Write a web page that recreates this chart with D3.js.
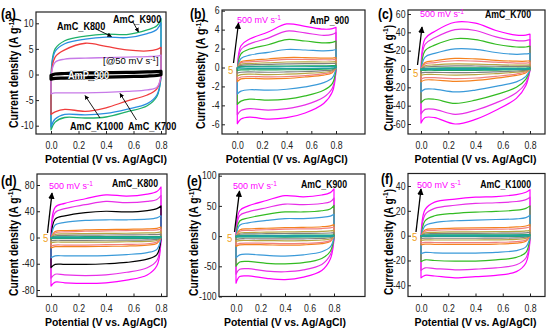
<!DOCTYPE html>
<html>
<head>
<meta charset="utf-8">
<script src="https://cdn.jsdelivr.net/npm/d3@7"></script>
<style>
  body { margin: 0; background: #fff; }
  svg { display: block; font-family: "Liberation Sans", Arial, sans-serif; }
</style>
</head>
<body>
<svg width="550" height="330"></svg>
<script>
// potentials (V) at which each branch is read
const potentials = [0, 0.03, 0.1, 0.25, 0.4, 0.55, 0.7, 0.77, 0.8];
const xTicks = [0, 0.2, 0.4, 0.6, 0.8];
const scanRates = [500, 400, 300, 200, 100, 80, 50, 30, 10, 5];
const rateColors = ["#ff00ff", "#e82ee8", "#33bb22", "#3a9ad9", "#f5821f",
  "#f08080", "#b5a642", "#808080", "#22aa55", "#1fa0a0"];
const rateColorsD = ["#ff00ff", "#e82ee8", "#000000", "#3a9ad9", "#f5821f",
  "#f08080", "#b5a642", "#808080", "#22aa55", "#1fa0a0"];

// (a) 50 mV/s comparison
const aNames = ["AmC_K900", "AmC_K800", "AmC_K700", "AmC_K1000", "AmP_900"];
const aColors = ["#1fb06a", "#2a8ee0", "#f03c3c", "#c77ae8", "#000000"];
const aUp = [
  [-1, 5, 6.6, 7.5, 7.9, 7.8, 8.7, 9.5, 10.9],
  [-1, 4.5, 6.0, 6.9, 7.3, 7.2, 8.0, 8.8, 10.1],
  [-0.8, 3.4, 4.8, 6.1, 5.5, 4.8, 4.6, 4.9, 5.3],
  [-0.5, 2.4, 3.0, 3.2, 3.3, 3.4, 3.5, 3.6, 3.8],
  [-0.2, 0.1, 0.2, 0.3, 0.35, 0.4, 0.5, 0.55, 0.6]
];
const aLo = [
  [-10.8, -9.3, -8.4, -8.5, -8.3, -7.3, -6.1, -4.3, -0.5],
  [-10.2, -8.7, -7.8, -7.9, -7.6, -6.8, -5.7, -4.0, -0.5],
  [-7.8, -7.3, -6.8, -7.2, -6.5, -5.2, -4.0, -2.8, -0.4],
  [-3.8, -3.6, -3.6, -3.6, -3.5, -3.3, -3.0, -2.5, -0.3],
  [-0.9, -0.75, -0.7, -0.6, -0.5, -0.4, -0.3, -0.2, -0.05]
];

// (b) AmP_900
const bUp = [
  [-0.5, 2.3, 3.0, 3.75, 4.6, 4.35, 4.05, 4.1, 4.25],
  [-0.4, 1.9, 2.5, 3.1, 3.85, 3.65, 3.4, 3.5, 3.7],
  [-0.3, 1.45, 1.95, 2.4, 2.95, 2.8, 2.6, 2.65, 2.8],
  [-0.2, 0.95, 1.3, 1.6, 1.9, 1.85, 1.75, 1.8, 1.9],
  [-0.1, 0.6, 0.75, 0.9, 1.05, 1.05, 1.0, 1.0, 1.05],
  [-0.1, 0.5, 0.6, 0.72, 0.85, 0.85, 0.82, 0.82, 0.85],
  [-0.05, 0.35, 0.42, 0.5, 0.58, 0.6, 0.58, 0.6, 0.62],
  [0, 0.22, 0.28, 0.32, 0.38, 0.4, 0.4, 0.42, 0.45],
  [0, 0.1, 0.12, 0.14, 0.16, 0.17, 0.18, 0.19, 0.22],
  [0, 0.05, 0.06, 0.07, 0.08, 0.08, 0.09, 0.1, 0.12]
];
const bLo = [
  [-5.95, -5.45, -5.25, -5.45, -5.3, -4.8, -3.8, -2.6, -0.3],
  [-5.0, -4.55, -4.35, -4.5, -4.35, -3.95, -3.15, -2.2, -0.3],
  [-3.9, -3.55, -3.35, -3.45, -3.35, -3.0, -2.4, -1.7, -0.2],
  [-2.8, -2.5, -2.35, -2.4, -2.3, -2.05, -1.6, -1.1, -0.1],
  [-1.5, -1.2, -1.15, -1.2, -1.15, -1.0, -0.8, -0.55, 0],
  [-1.2, -1.0, -0.95, -1.0, -0.95, -0.85, -0.65, -0.45, 0],
  [-0.9, -0.75, -0.7, -0.75, -0.7, -0.62, -0.5, -0.35, 0],
  [-0.6, -0.5, -0.47, -0.5, -0.47, -0.42, -0.33, -0.25, 0],
  [-0.3, -0.26, -0.24, -0.25, -0.24, -0.22, -0.18, -0.13, 0],
  [-0.15, -0.13, -0.12, -0.12, -0.12, -0.11, -0.1, -0.07, 0]
];

// (c) AmC_K700
const cUp = [
  [-5, 33, 41, 51, 50, 42, 37, 37, 38],
  [-4, 27, 34, 43, 42, 35, 31, 31, 32],
  [-3, 20, 26, 33, 32, 27, 24, 24, 25],
  [-2, 13, 17, 22, 21.5, 18, 16, 16.5, 17],
  [-1, 7, 9, 11.5, 11, 9.5, 8.5, 8.5, 9],
  [-1, 5.5, 7, 9, 8.5, 7.5, 6.5, 6.5, 7],
  [-0.5, 3.5, 4.5, 5.5, 5.3, 4.7, 4.2, 4.3, 4.5],
  [-0.3, 2.2, 2.8, 3.4, 3.3, 3, 2.7, 2.8, 3],
  [0, 0.8, 1, 1.2, 1.2, 1.1, 1, 1.1, 1.2],
  [0, 0.4, 0.5, 0.6, 0.6, 0.55, 0.5, 0.55, 0.6]
];
const cLo = [
  [-59, -53, -53, -60, -55, -45, -32, -18, -1],
  [-49, -44, -44, -49.5, -45, -37, -26, -15, -1],
  [-37, -33, -33, -37.5, -34, -28, -20, -11, -1],
  [-25, -22, -22, -25, -23, -19, -14, -8, -0.5],
  [-14, -12, -12, -13.5, -12.5, -10, -7, -4, 0],
  [-11, -9.5, -9.5, -10.5, -9.8, -8, -5.5, -3, 0],
  [-7, -6, -6, -6.6, -6.2, -5, -3.5, -2, 0],
  [-4.3, -3.7, -3.7, -4, -3.8, -3.1, -2.2, -1.2, 0],
  [-1.6, -1.4, -1.4, -1.5, -1.4, -1.2, -0.8, -0.5, 0],
  [-0.8, -0.7, -0.7, -0.75, -0.7, -0.6, -0.4, -0.25, 0]
];

// (d) AmC_K800
const dUp = [
  [-5, 46, 52, 59, 65, 63, 66, 70, 77],
  [-4, 38, 44, 50, 55, 53, 55, 58, 64],
  [-3, 28, 33, 38, 40, 39, 41, 44, 48],
  [-2, 19, 23, 26, 27, 27, 28, 30, 33],
  [-1, 9, 10.5, 11.5, 12, 12.5, 13, 14, 16],
  [-1, 7, 8.5, 9.5, 10, 10.5, 11, 11.5, 13],
  [-0.5, 4.5, 5.5, 6, 6.3, 6.5, 7, 7.3, 8.5],
  [-0.3, 2.7, 3.2, 3.6, 3.8, 4, 4.2, 4.5, 5],
  [0, 0.9, 1.1, 1.2, 1.3, 1.3, 1.4, 1.5, 1.7],
  [0, 0.45, 0.55, 0.6, 0.65, 0.65, 0.7, 0.75, 0.85]
];
const dLo = [
  [-74, -68, -69, -70, -69, -65, -57, -43, -4],
  [-62, -56, -57, -58, -57, -53, -46, -35, -3],
  [-46, -41, -41, -41, -40, -38, -33, -26, -2],
  [-31, -28, -28, -28, -27.5, -26, -23, -18, -1],
  [-16, -14, -14, -14, -13.5, -13, -11.5, -9, 0],
  [-13, -11.5, -11.5, -11.5, -11, -10.5, -9.5, -7, 0],
  [-8, -7, -7, -7, -7, -6.5, -6, -4.5, 0],
  [-5, -4.3, -4.3, -4.3, -4.2, -4, -3.6, -2.8, 0],
  [-1.7, -1.5, -1.5, -1.5, -1.4, -1.4, -1.2, -0.9, 0],
  [-0.85, -0.75, -0.75, -0.75, -0.7, -0.7, -0.6, -0.45, 0]
];

// (e) AmC_K900
const eUp = [
  [-5, 42, 50, 59, 67, 65, 68, 72, 78],
  [-4, 34, 40, 47, 53, 52, 54, 57, 63],
  [-3, 25, 30, 36, 40, 40, 42, 45, 51],
  [-2, 18, 22, 26, 29, 29, 31, 33, 36],
  [-1, 10, 12, 13, 14, 14.5, 15.5, 17, 19],
  [-1, 8, 9.5, 10.5, 11.5, 12, 12.5, 13.5, 15],
  [-0.5, 5, 6, 6.5, 7, 7.3, 7.8, 8.5, 9.5],
  [-0.3, 3, 3.6, 4, 4.3, 4.5, 4.7, 5.1, 5.7],
  [0, 1, 1.2, 1.3, 1.4, 1.5, 1.6, 1.7, 1.9],
  [0, 0.5, 0.6, 0.65, 0.7, 0.75, 0.8, 0.85, 0.95]
];
const eLo = [
  [-78, -67, -66, -70, -72, -68, -57, -38, -5],
  [-63, -55, -54, -58, -59, -56, -47, -31, -4],
  [-50, -43, -42, -45, -46, -44, -37, -25, -3],
  [-36, -31, -30, -32, -33, -31, -26, -18, -2],
  [-17, -14.5, -14, -14.5, -15, -14.5, -12.5, -9, 0],
  [-14, -12, -11.5, -12, -12.5, -12, -10.5, -7.5, 0],
  [-9, -7.5, -7.3, -7.5, -7.8, -7.5, -6.5, -4.7, 0],
  [-5.5, -4.5, -4.4, -4.5, -4.7, -4.5, -3.9, -2.8, 0],
  [-1.8, -1.5, -1.45, -1.5, -1.55, -1.5, -1.3, -0.95, 0],
  [-0.9, -0.75, -0.72, -0.75, -0.78, -0.75, -0.65, -0.47, 0]
];

// (f) AmC_K1000
const fUp = [
  [-3, 21, 27, 29.5, 31, 31.5, 33, 35, 37],
  [-2.5, 17, 22, 24.5, 26, 26.5, 27.5, 29, 31],
  [-2, 12, 16, 18, 19, 19.5, 20.5, 22, 24],
  [-1.5, 8, 10.5, 12, 12.5, 13, 13.5, 14.5, 16.5],
  [-0.8, 4.5, 5.5, 6, 6.3, 6.5, 7, 7.8, 9],
  [-0.6, 3.5, 4.3, 4.8, 5, 5.2, 5.5, 6.2, 7],
  [-0.4, 2.2, 2.7, 3, 3.1, 3.2, 3.4, 3.8, 4.3],
  [-0.2, 1.3, 1.6, 1.8, 1.9, 1.95, 2.05, 2.3, 2.6],
  [0, 0.45, 0.55, 0.6, 0.62, 0.65, 0.7, 0.75, 0.85],
  [0, 0.22, 0.27, 0.3, 0.31, 0.32, 0.35, 0.38, 0.43]
];
const fLo = [
  [-34, -32, -32.5, -34, -33, -32, -29, -22, -3],
  [-28, -26, -26.5, -27.5, -27, -26, -23.5, -18, -2.5],
  [-21, -19.5, -20, -20.5, -20.5, -19.5, -17.5, -13.5, -2],
  [-14.5, -13.5, -13.8, -14, -14, -13.5, -12, -9, -1.5],
  [-7.5, -6.8, -7, -7, -7, -6.8, -6, -4.5, 0],
  [-6, -5.4, -5.5, -5.6, -5.6, -5.4, -4.8, -3.6, 0],
  [-3.8, -3.4, -3.5, -3.5, -3.5, -3.4, -3, -2.2, 0],
  [-2.3, -2, -2.1, -2.1, -2.1, -2, -1.8, -1.3, 0],
  [-0.75, -0.68, -0.7, -0.7, -0.7, -0.68, -0.6, -0.45, 0],
  [-0.38, -0.34, -0.35, -0.35, -0.35, -0.34, -0.3, -0.22, 0]
];

const svg = d3.select("svg");
const squeeze = 0.87; // glyphs in the figure are narrower than Arial

svg.append("defs").append("marker")
  .attr("id", "head")
  .attr("viewBox", "0 0 10 10")
  .attr("refX", 9).attr("refY", 5)
  .attr("markerWidth", 5).attr("markerHeight", 5)
  .attr("orient", "auto")
  .append("path").attr("d", "M0,0L10,5L0,10z").attr("fill", "#000");

// layout of each panel: frame [left,right,top,bottom], x/y anchors in px
const panels = [
  { key: "a", label: "(a)", lab: [1, 19], frame: [36, 166, 12, 134], xr: [51, 161],
    yDom: [10, -10], yr: [23.3, 125.7], yTicks: [-10, -5, 0, 5, 10],
    titleX: 18, titleMid: 73, titleLen: 110, xTitleY: 163,
    up: aUp, lo: aLo, colors: aColors, widths: [1.3, 1.3, 1.3, 1.3, 3.2] },
  { key: "b", label: "(b)", lab: [190, 19], frame: [222, 365, 10, 134], xr: [237.3, 336],
    yDom: [6, -6], yr: [10.7, 124.3], yTicks: [-6, -4, -2, 0, 2, 4, 6],
    titleX: 205, titleMid: 74, titleLen: 110, xTitleY: 163,
    up: bUp, lo: bLo, colors: rateColors, name: "AmP_900", nameXY: [349, 24],
    rateXY: [237, 23], fiveXY: [228, 74], arrow: [233.5, 63, 238.5, 23] },
  { key: "c", label: "(c)", lab: [378, 19], frame: [408, 545, 10, 134], xr: [421, 530],
    yDom: [60, -60], yr: [14, 124], yTicks: [-60, -40, -20, 0, 20, 40, 60],
    titleX: 392.5, titleMid: 78, titleLen: 106, xTitleY: 163,
    up: cUp, lo: cLo, colors: rateColors, name: "AmC_K700", nameXY: [531, 18],
    rateXY: [420, 17], fiveXY: [413, 77], arrow: [417.5, 65, 422, 27] },
  { key: "d", label: "(d)", lab: [1, 186], frame: [37, 167, 174, 296.5], xr: [51, 161],
    yDom: [80, -80], yr: [185, 290], yTicks: [-80, -40, 0, 40, 80],
    titleX: 17.5, titleMid: 242, titleLen: 108, xTitleY: 325.5,
    up: dUp, lo: dLo, colors: rateColorsD, name: "AmC_K800", nameXY: [158, 187],
    rateXY: [49, 189], fiveXY: [43, 242], arrow: [47.5, 233, 52, 193] },
  { key: "e", label: "(e)", lab: [187, 186], frame: [219, 365, 174, 296.5], xr: [236, 334],
    yDom: [100, -100], yr: [175.7, 296.5], yTicks: [-100, -50, 0, 50, 100],
    titleX: 198, titleMid: 242, titleLen: 108, xTitleY: 325.5,
    up: eUp, lo: eLo, colors: rateColors, name: "AmC_K900", nameXY: [347, 188],
    rateXY: [233, 189], fiveXY: [227, 242], arrow: [234.5, 232, 239.5, 191] },
  { key: "f", label: "(f)", lab: [381, 184], frame: [408, 545, 173.5, 296.5], xr: [421, 530],
    yDom: [40, -40], yr: [186, 285.3], yTicks: [-40, -20, 0, 20, 40],
    titleX: 392.5, titleMid: 242, titleLen: 106, xTitleY: 325.5,
    up: fUp, lo: fLo, colors: rateColors, name: "AmC_K1000", nameXY: [531, 188],
    rateXY: [417, 188], fiveXY: [412, 241], arrow: [416, 232, 421, 189] }
];

const branch = d3.line().curve(d3.curveCatmullRom.alpha(0.5));

const drawPanel = (p) => {
  const [L, R, T, B] = p.frame;
  const x = d3.scaleLinear().domain([0, 0.8]).range(p.xr);
  const y = d3.scaleLinear().domain(p.yDom).range(p.yr);
  const g = svg.append("g");

  svg.select("defs").append("clipPath").attr("id", "clip-" + p.key)
    .append("rect").attr("x", L).attr("y", T).attr("width", R - L).attr("height", B - T);

  const curves = g.append("g").attr("clip-path", `url(#clip-${p.key})`);
  p.up.forEach((u, i) => {
    const upper = potentials.map((e, j) => [x(e), y(u[j])]);
    const lower = potentials.map((e, j) => [x(e), y(p.lo[i][j])]).reverse();
    const d = branch(upper) + branch(lower).replace(/^M/, "L") + "Z";
    curves.append("path")
      .attr("d", d)
      .attr("fill", "none")
      .attr("stroke", p.colors[i])
      .attr("stroke-width", p.widths ? p.widths[i] : 1.2)
      .attr("stroke-linejoin", "round");
  });

  // ticks point into the frame
  const xAxis = d3.axisBottom(x).tickValues(xTicks)
    .tickFormat(d3.format(".1f")).tickSize(-3).tickSizeOuter(0).tickPadding(8);
  const yAxis = d3.axisLeft(y).tickValues(p.yTicks)
    .tickFormat((d) => String(d)).tickSize(-3).tickSizeOuter(0).tickPadding(2.5);

  const gx = g.append("g").attr("transform", `translate(0,${B})`).call(xAxis);
  const gy = g.append("g").attr("transform", `translate(${L},0)`).call(yAxis);
  [gx, gy].forEach((ax) => {
    ax.select(".domain").remove();
    ax.selectAll("line").attr("stroke", "#222").attr("stroke-width", 1);
    ax.selectAll("text").attr("font-size", 10).attr("fill", "#222")
      .attr("font-family", "Liberation Sans, Arial, sans-serif");
  });

  g.append("rect")
    .attr("x", L).attr("y", T).attr("width", R - L).attr("height", B - T)
    .attr("fill", "none").attr("stroke", "#222").attr("stroke-width", 1.2);

  // axis titles
  g.append("text")
    .attr("x", (p.xr[0] + p.xr[1]) / 2).attr("y", p.xTitleY)
    .attr("text-anchor", "middle").attr("font-weight", "bold").attr("font-size", 11.5)
    .attr("textLength", 122).attr("lengthAdjust", "spacingAndGlyphs")
    .text("Potential (V vs. Ag/AgCl)");

  const yt = g.append("text")
    .attr("class", "rich")
    .attr("transform", `translate(${p.titleX},${p.titleMid}) rotate(-90)`)
    .attr("text-anchor", "middle").attr("font-weight", "bold").attr("font-size", 12)
    .attr("textLength", p.titleLen).attr("lengthAdjust", "spacingAndGlyphs");
  yt.append("tspan").text("Current density (A g");
  yt.append("tspan").attr("dy", -4.5).attr("font-size", 8).text("-1");
  yt.append("tspan").attr("dy", 4.5).text(")");

  g.append("text")
    .attr("x", p.lab[0]).attr("y", p.lab[1])
    .attr("font-weight", "bold").attr("font-size", 14)
    .text(p.label);

  if (p.name) {
    g.append("text")
      .attr("x", p.nameXY[0]).attr("y", p.nameXY[1])
      .attr("text-anchor", "end").attr("font-weight", "bold").attr("font-size", 10)
      .text(p.name);
    const rt = g.append("text")
      .attr("class", "rich")
      .attr("x", p.rateXY[0]).attr("y", p.rateXY[1])
      .attr("font-size", 9).attr("fill", "#ff00ff");
    rt.append("tspan").text(scanRates[0] + " mV s");
    rt.append("tspan").attr("dy", -3.5).attr("font-size", 6.5).text("-1");
    g.append("text")
      .attr("x", p.fiveXY[0]).attr("y", p.fiveXY[1])
      .attr("font-size", 11).attr("fill", "#f0a020")
      .text(scanRates[scanRates.length - 1]);
    g.append("line")
      .attr("x1", p.arrow[0]).attr("y1", p.arrow[1])
      .attr("x2", p.arrow[2]).attr("y2", p.arrow[3])
      .attr("stroke", "#000").attr("stroke-width", 1.3)
      .attr("marker-end", "url(#head)");
  }
  return g;
};

panels.forEach(drawPanel);

// annotations of panel (a)
const ga = svg.append("g").attr("font-weight", "bold").attr("font-size", 10.5);
ga.append("text").attr("x", 113).attr("y", 22.5).text(aNames[0]);
ga.append("text").attr("x", 57).attr("y", 30).text(aNames[1]);
ga.append("text").attr("x", 128).attr("y", 129.5).text(aNames[2]);
ga.append("text").attr("x", 70).attr("y", 129.5).text(aNames[3]);
ga.append("text").attr("x", 68).attr("y", 79).attr("fill", "#fff")
  .attr("stroke", "#000").attr("stroke-width", 0.7).attr("paint-order", "stroke")
  .text(aNames[4]);
const at = svg.append("text").attr("class", "rich")
  .attr("x", 103).attr("y", 64).attr("font-size", 9.5);
at.append("tspan").text("[@50 mV s");
at.append("tspan").attr("dy", -3.5).attr("font-size", 6.5).text("-1");
at.append("tspan").attr("dy", 3.5).text("]");

const aArrows = [
  [95, 28.5, 111.5, 36.5],
  [133, 22, 138.5, 32],
  [100, 118, 85, 95.5],
  [136.5, 120, 120, 93.5]
];
svg.append("g").selectAll("line").data(aArrows).enter().append("line")
  .attr("x1", (d) => d[0]).attr("y1", (d) => d[1])
  .attr("x2", (d) => d[2]).attr("y2", (d) => d[3])
  .attr("stroke", "#000").attr("stroke-width", 0.9)
  .attr("marker-end", "url(#head)");

// narrow the plain labels to the figure's condensed lettering
svg.selectAll("text")
  .filter(function () {
    return !this.hasAttribute("textLength") && !this.classList.contains("rich");
  })
  .each(function () {
    const w = this.getComputedTextLength();
    d3.select(this).attr("textLength", w * squeeze).attr("lengthAdjust", "spacingAndGlyphs");
  });
</script>
</body>
</html>
